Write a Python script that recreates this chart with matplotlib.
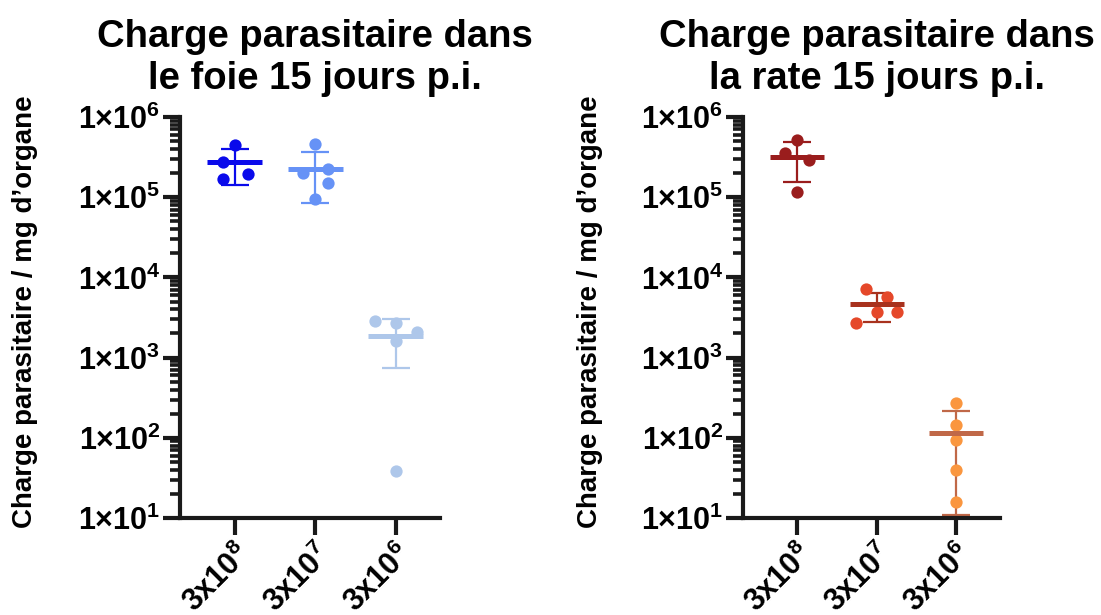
import matplotlib
matplotlib.use("Agg")
import matplotlib.pyplot as plt
import matplotlib.transforms as mtransforms
import numpy as np
from matplotlib.ticker import LogLocator, FixedLocator, NullFormatter

plt.rcParams["font.family"] = ["Liberation Sans", "DejaVu Sans"]
plt.rcParams["font.weight"] = "bold"
plt.rcParams["mathtext.fontset"] = "custom"
plt.rcParams["mathtext.rm"] = "Liberation Sans:bold"
plt.rcParams["mathtext.bf"] = "Liberation Sans:bold"
plt.rcParams["mathtext.it"] = "Liberation Sans:bold"
plt.rcParams["mathtext.default"] = "rm"

# Inoculum doses (x axis categories)
doses = ["3x10$^{8}$", "3x10$^{7}$", "3x10$^{6}$"]

# Parasite load per mg of organ, liver, day 15 p.i.
foie_3e8 = [4.5e5, 2.72e5, 1.95e5, 1.67e5]
foie_3e7 = [4.6e5, 1.99e5, 2.23e5, 1.52e5, 9.4e4]
foie_3e6 = [2.88e3, 2.72e3, 2.10e3, 1.63e3, 38.5]

# Parasite load per mg of organ, spleen, day 15 p.i.
rate_3e8 = [5.2e5, 3.59e5, 2.91e5, 1.16e5]
rate_3e7 = [7.16e3, 5.75e3, 3.70e3, 3.70e3, 2.68e3]
rate_3e6 = [274, 144.5, 94, 39.4, 15.7]

y_ticks = [1e1, 1e2, 1e3, 1e4, 1e5, 1e6]
y_tick_labels = ["1×10$^{1}$", "1×10$^{2}$", "1×10$^{3}$",
                 "1×10$^{4}$", "1×10$^{5}$", "1×10$^{6}$"]

titles = ["Charge parasitaire dans\nle foie 15 jours p.i.",
          "Charge parasitaire dans\nla rate 15 jours p.i."]
ylabel = "Charge parasitaire / mg d’organe"

foie_dot_colors = ["#0A0AEB", "#6692F6", "#AEC7EA"]
foie_line_colors = ["#0A0AEB", "#6692F6", "#AEC7EA"]
rate_dot_colors = ["#9A1D1D", "#E5482A", "#FA963F"]
rate_line_colors = ["#9A1D1D", "#A8321E", "#C06848"]

# horizontal scatter of the individual animals inside each column
foie_jitter = [[0, -0.14, 0.16, -0.14],
               [0, -0.15, 0.16, 0.16, 0],
               [-0.26, 0, 0.26, 0, 0]]
rate_jitter = [[0, -0.15, 0.15, 0],
               [-0.13, 0.13, 0, 0.26, -0.26],
               [0, 0, 0, 0, 0]]

W, H = 1101, 615
fig = plt.figure(figsize=(W / 100, H / 100), dpi=100)


def panel(rect_px, groups, jitter, dot_colors, line_colors, title):
    x0, y_top, x1, y_bot = rect_px
    ax = fig.add_axes([x0 / W, 1 - y_bot / H, (x1 - x0) / W, (y_bot - y_top) / H])
    ax.set_yscale("log")
    ax.set_ylim(10, 1e6)
    ax.set_xlim(-0.68, 2.55)
    for i, vals in enumerate(groups):
        vals = np.asarray(vals, dtype=float)
        m = vals.mean()
        sd = vals.std(ddof=1)
        ax.errorbar([i], [m], yerr=[[sd], [sd]], fmt="none",
                    ecolor=line_colors[i], elinewidth=1.6, capsize=10,
                    capthick=1.6, zorder=2)
        ax.scatter(i + np.asarray(jitter[i]), vals, s=78, color=dot_colors[i],
                   linewidths=0, zorder=3)
        ax.hlines(m, i - 0.34, i + 0.34, colors=line_colors[i], linewidth=3.6,
                  zorder=4)
    for s in ("top", "right"):
        ax.spines[s].set_visible(False)
    for s in ("left", "bottom"):
        ax.spines[s].set_linewidth(3)
        ax.spines[s].set_color("#1a1a1a")
        ax.spines[s].set_capstyle("projecting")
    ax.yaxis.set_major_locator(FixedLocator(y_ticks))
    ax.set_yticklabels(y_tick_labels)
    ax.yaxis.set_minor_locator(LogLocator(base=10, subs=range(2, 10), numticks=20))
    ax.yaxis.set_minor_formatter(NullFormatter())
    ax.tick_params(axis="y", which="major", length=12, width=3, color="#1a1a1a",
                   labelsize=22, pad=2)
    ax.tick_params(axis="y", which="minor", length=7.5, width=2.6, color="#1a1a1a")
    ax.set_xticks(range(len(doses)))
    ax.set_xticklabels(doses, rotation=45, ha="right", va="top",
                       rotation_mode="anchor")
    ax.tick_params(axis="x", which="major", length=12, width=3, color="#1a1a1a",
                   labelsize=22, pad=3)
    for lab in ax.get_yticklabels():
        lab.set_verticalalignment("center_baseline")
    trans = mtransforms.blended_transform_factory(ax.transData, fig.transFigure)
    ax.text(1, 1 - 19 / H, title, transform=trans,
            ha="center", va="top", fontsize=27.5, fontweight="bold",
            linespacing=1.2)
    return ax


ax1 = panel((180, 117, 440, 518), [foie_3e8, foie_3e7, foie_3e6], foie_jitter,
            foie_dot_colors, foie_line_colors, titles[0])
ax2 = panel((743, 117, 1000, 518), [rate_3e8, rate_3e7, rate_3e6], rate_jitter,
            rate_dot_colors, rate_line_colors, titles[1])

fig.text(25 / W, 1 - 312 / H, ylabel, rotation=90, ha="center", va="center",
         fontsize=20, fontweight="bold")
fig.text(590 / W, 1 - 312 / H, ylabel, rotation=90, ha="center", va="center",
         fontsize=20, fontweight="bold")

fig.savefig("out.png", dpi=100)
